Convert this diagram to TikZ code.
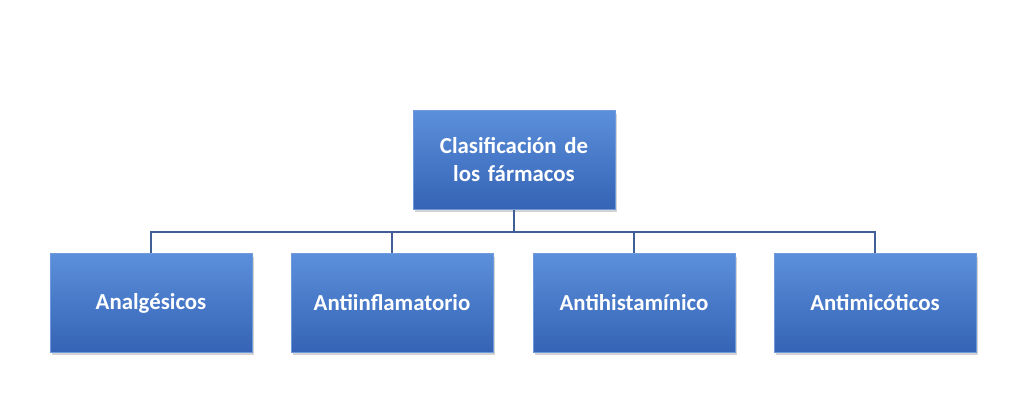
\documentclass[tikz,border=0pt]{standalone}
\usepackage{fontspec}
\setmainfont{Carlito}
\usetikzlibrary{positioning,shadows}
\definecolor{boxtop}{HTML}{5B8FDB}
\definecolor{boxbot}{HTML}{3563B5}
\definecolor{boxline}{HTML}{6F9BDC}
\definecolor{linkcol}{HTML}{3F5F96}
\begin{document}
\begin{tikzpicture}
  [
    box/.style = {rectangle, draw=boxline, top color=boxtop, bottom color=boxbot,
                  minimum width=3.96cm, minimum height=1.97cm, text width=3.8cm,
                  align=center, text=white, font=\fontsize{13}{16}\selectfont\bfseries,
                  drop shadow={opacity=0.35, shadow xshift=0.04cm, shadow yshift=-0.06cm}},
    link/.style = {draw=linkcol, line width=0.7pt}
  ]
  \useasboundingbox (0,0) rectangle (20.48,8.18);

  \node (root) [box] at (10.28,4.98) {Clasificación de\\los fármacos};
  \node (analg) [box] at (3.02,2.12) {Analgésicos};
  \node (antiinf) [box] at (7.84,2.12) {Antiinflamatorio};
  \node (antihis) [box] at (12.68,2.12) {Antihistamínico};
  \node (antimic) [box] at (17.50,2.12) {Antimicóticos};

  \coordinate (bus) at (10.28,3.54);
  \draw[link] (root.south) -- (bus);
  \foreach \kid in {analg,antiinf,antihis,antimic}
    \draw[link] (\kid.north) |- (bus);
\end{tikzpicture}
\end{document}
